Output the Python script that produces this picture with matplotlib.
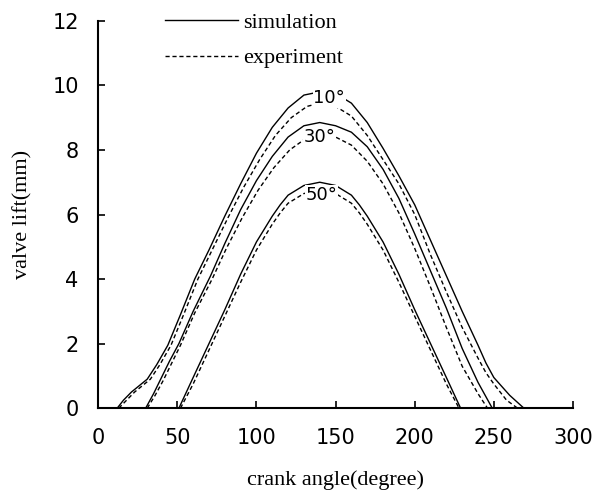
import matplotlib
matplotlib.use('Agg')
import matplotlib.pyplot as plt

# valve lift curves (crank angle in degree, lift in mm)
sim10_x = [12, 16, 21, 26, 31, 37, 44, 52, 61, 70, 80, 90, 100, 110, 120, 130, 140, 150,
           160, 170, 180, 190, 200, 210, 220, 230, 240, 245, 250, 260, 269]
sim10_y = [0, 0.25, 0.5, 0.7, 0.9, 1.35, 1.95, 2.9, 4.0, 4.9, 5.95, 6.95, 7.9, 8.7, 9.3, 9.7, 9.8, 9.75,
           9.45, 8.85, 8.05, 7.2, 6.3, 5.2, 4.1, 3.0, 1.95, 1.4, 0.95, 0.4, 0]
exp10_x = [13, 18, 23, 28, 33, 39, 46, 54, 63, 72, 82, 92, 102, 112, 122, 132, 140, 150,
           160, 170, 180, 190, 200, 210, 220, 230, 240, 245, 250, 258, 265]
exp10_y = [0, 0.25, 0.5, 0.7, 0.9, 1.35, 1.95, 2.9, 4.0, 4.9, 5.9, 6.85, 7.7, 8.45, 9.0, 9.35, 9.45, 9.35,
           9.05, 8.45, 7.7, 6.95, 6.0, 4.75, 3.6, 2.5, 1.55, 1.1, 0.75, 0.25, 0]

sim30_x = [30, 35, 40, 45, 51, 60, 71, 80, 90, 100, 110, 120, 130, 140, 150, 160, 170, 180,
           190, 200, 210, 220, 230, 240, 249]
sim30_y = [0, 0.45, 0.95, 1.45, 2.0, 3.0, 4.1, 5.1, 6.15, 7.05, 7.8, 8.4, 8.75, 8.85, 8.75, 8.55, 8.1, 7.4,
           6.5, 5.4, 4.25, 3.1, 1.85, 0.8, 0]
exp30_x = [31, 36, 41, 46, 52, 61, 72, 81, 91, 101, 111, 121, 131, 140, 150, 160, 170, 180,
           190, 200, 210, 220, 230, 240, 246]
exp30_y = [0, 0.4, 0.85, 1.35, 1.95, 2.95, 4.0, 4.95, 5.9, 6.75, 7.45, 8.0, 8.35, 8.5, 8.4, 8.15, 7.65, 6.95,
           6.05, 4.95, 3.75, 2.5, 1.3, 0.45, 0]

sim50_x = [51, 60, 70, 80, 90, 100, 110, 115, 120, 130, 140, 150, 160, 165, 170, 180, 190, 200, 210, 220, 229]
sim50_y = [0, 0.95, 2.0, 3.05, 4.15, 5.15, 5.95, 6.3, 6.6, 6.9, 7.0, 6.9, 6.6, 6.3, 5.95, 5.15, 4.15, 3.05,
           2.0, 0.95, 0]
exp50_x = [52, 60, 70, 80, 90, 100, 110, 115, 120, 130, 140, 150, 160, 165, 170, 180, 190, 200, 210, 220, 228]
exp50_y = [0, 0.75, 1.8, 2.85, 3.9, 4.9, 5.7, 6.05, 6.35, 6.65, 6.75, 6.65, 6.35, 6.05, 5.7, 4.9, 3.9, 2.85,
           1.8, 0.75, 0]

labels = ['10°', '30°', '50°']
label_pos = [(146, 9.6), (140, 8.4), (141, 6.6)]

serif = ['Liberation Serif', 'DejaVu Serif']
dash = (0, (3, 2))

fig = plt.figure(figsize=(5.95, 4.96), dpi=100)
ax = fig.add_axes([0.165, 0.177, 0.798, 0.781])

ax.plot(sim10_x, sim10_y, color='black', lw=1.0, label='simulation')
ax.plot(exp10_x, exp10_y, color='black', lw=1.0, linestyle=dash, label='experiment')
ax.plot(sim30_x, sim30_y, color='black', lw=1.0)
ax.plot(exp30_x, exp30_y, color='black', lw=1.0, linestyle=dash)
ax.plot(sim50_x, sim50_y, color='black', lw=1.0)
ax.plot(exp50_x, exp50_y, color='black', lw=1.0, linestyle=dash)

for lab, (lx, ly) in zip(labels, label_pos):
    ax.text(lx, ly, lab, fontsize=13, family='DejaVu Sans', ha='center', va='center',
            bbox=dict(facecolor='white', edgecolor='none', pad=0.5))

ax.set_xlim(0, 300)
ax.set_ylim(0, 12)
ax.set_xticks(range(0, 301, 50))
ax.set_yticks(range(0, 13, 2))
ax.tick_params(direction='in', length=5, width=1.2, labelsize=15, pad=14)
for s in ['top', 'right']:
    ax.spines[s].set_visible(False)
for s in ['left', 'bottom']:
    ax.spines[s].set_linewidth(1.5)

ax.set_xlabel('crank angle(degree)', fontsize=16, family=serif, labelpad=16)
ax.set_ylabel('valve lift(mm)', fontsize=16, family=serif, labelpad=14)

ax.legend(loc='upper left', bbox_to_anchor=(0.141, 1.022), frameon=False,
          prop={'family': serif, 'size': 16}, handlelength=3.3, handletextpad=0.2,
          labelspacing=0.67, borderpad=0, borderaxespad=0)

fig.savefig('out.png', dpi=100)
